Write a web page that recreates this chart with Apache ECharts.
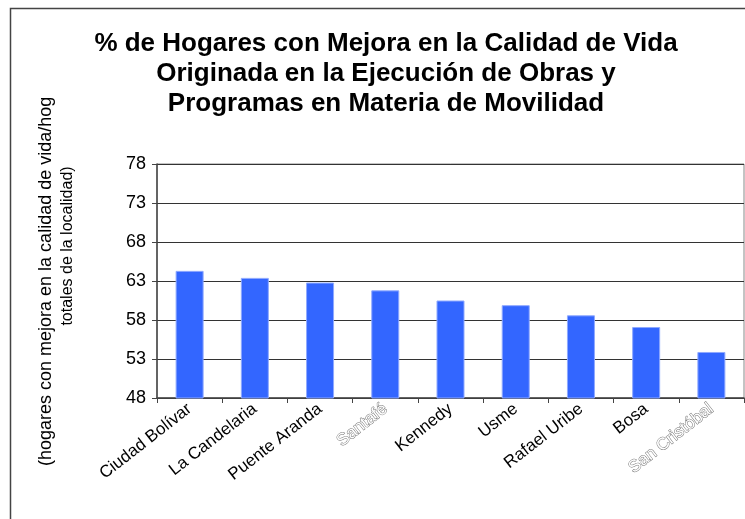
<!DOCTYPE html>
<html>
<head>
<meta charset="utf-8">
<script src="https://cdn.jsdelivr.net/npm/echarts@6/dist/echarts.min.js"></script>
<style>
    html, body { margin: 0; padding: 0; background: #fff; }
    #main { width: 745px; height: 519px; }
</style>
</head>
<body>
<div id="main"></div>
<script>
// localidades, ordered as in the chart
var localidades = ['Ciudad Bolívar', 'La Candelaria', 'Puente Aranda', 'Santafé', 'Kennedy',
    'Usme', 'Rafael Uribe', 'Bosa', 'San Cristóbal'];
var porcentajes = [64.3, 63.4, 62.8, 61.8, 60.5, 59.9, 58.6, 57.1, 53.9];
var yTicks = [48, 53, 58, 63, 68, 73, 78];
// these two labels come out white/ghosted in the original
var etiquetasClaras = ['Santafé', 'San Cristóbal'];

var titulo = '% de Hogares con Mejora en la Calidad de Vida\nOriginada en la Ejecución de Obras y\nProgramas en Materia de Movilidad';
var ejeY1 = '(hogares con mejora en la calidad de vida/hogares';
var ejeY2 = 'totales de la localidad)';

var fuente = '"Liberation Sans", Arial, sans-serif';

function initChart(){
    var myChart = echarts.init(document.getElementById('main'));
    var option = {
        animation: false,
        backgroundColor: '#fff',
        title: {
            text: titulo,
            left: 381,
            top: 24,
            textAlign: 'center',
            textStyle: {
                fontFamily: fuente,
                fontSize: 26,
                fontWeight: 'bold',
                lineHeight: 30,
                color: '#000'
            }
        },
        grid: {
            left: 157,
            right: 1,
            top: 164,
            bottom: 121,
            show: true,
            borderColor: '#888',
            borderWidth: 1
        },
        xAxis: {
            type: 'category',
            data: localidades,
            axisLine: { lineStyle: { color: '#444', width: 1.5 } },
            axisTick: { show: true, length: 5, lineStyle: { color: '#444' } },
            axisLabel: {
                rotate: 38,
                margin: 9,
                interval: 0,
                fontFamily: fuente,
                fontSize: 17,
                color: '#000',
                formatter: function (v) {
                    return etiquetasClaras.indexOf(v) >= 0 ? '{claro|' + v + '}' : v;
                },
                rich: {
                    claro: {
                        fontFamily: fuente,
                        fontSize: 17,
                        color: '#fff',
                        textBorderColor: '#777',
                        textBorderWidth: 1
                    }
                }
            }
        },
        yAxis: {
            type: 'value',
            min: yTicks[0],
            max: yTicks[yTicks.length - 1],
            interval: 5,
            axisLine: { show: true, lineStyle: { color: '#444', width: 1.5 } },
            axisTick: { show: true, length: 5, lineStyle: { color: '#444' } },
            axisLabel: {
                margin: 11,
                fontFamily: fuente,
                fontSize: 18,
                color: '#000'
            },
            splitLine: { show: true, lineStyle: { color: '#333', width: 1.2 } }
        },
        graphic: [
            {
                type: 'rect',
                shape: { x: 10.5, y: 8.5, width: 760, height: 540 },
                style: { fill: 'none', stroke: '#444', lineWidth: 1.5 },
                silent: true
            },
            {
                type: 'text',
                x: 46,
                y: 466,
                rotation: Math.PI / 2,
                style: {
                    text: ejeY1,
                    width: 378,
                    overflow: 'truncate',
                    ellipsis: '',
                    font: '18px ' + fuente,
                    fill: '#000',
                    align: 'left',
                    verticalAlign: 'middle'
                }
            },
            {
                type: 'text',
                x: 68,
                y: 246,
                rotation: Math.PI / 2,
                style: {
                    text: ejeY2,
                    font: '16px ' + fuente,
                    fill: '#000',
                    align: 'center',
                    verticalAlign: 'middle'
                }
            }
        ],
        series: [
            {
                type: 'bar',
                data: porcentajes,
                barWidth: 28,
                itemStyle: {
                    color: '#3366FF',
                    borderColor: '#8fa9ff',
                    borderWidth: 1
                }
            }
        ]
    };
    myChart.setOption(option);
}

initChart();
</script>
</body>
</html>
